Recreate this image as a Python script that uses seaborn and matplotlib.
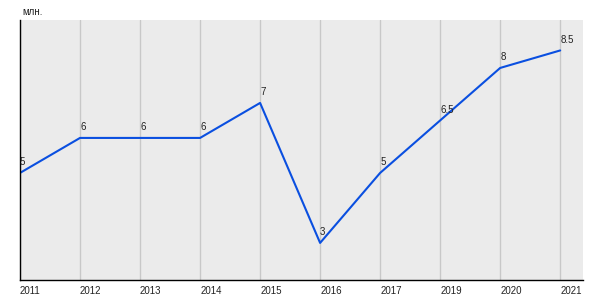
import matplotlib
matplotlib.use("Agg")
import matplotlib.pyplot as plt
import seaborn as sns
import pandas as pd

years = ["2011", "2012", "2013", "2014", "2015", "2016", "2017", "2019", "2020", "2021"]
values = [5, 6, 6, 6, 7, 3, 5, 6.5, 8, 8.5]
labels = ["5", "6", "6", "6", "7", "3", "5", "6.5", "8", "8.5"]
unit = "млн."

sns.set_theme(style="white")
plt.rcParams['font.family'] = ['Liberation Sans', 'DejaVu Sans']

df = pd.DataFrame({"pos": list(range(len(years))), "value": values})

fig = plt.figure(figsize=(6, 3), dpi=100)
ax = fig.add_axes([20/600, 20/300, 563/600, 260/300])
ax.set_facecolor("#ebebeb")

sns.lineplot(data=df, x="pos", y="value", ax=ax, color="#0a4fe0", linewidth=1.5)

for p, v, t in zip(df["pos"], values, labels):
    ax.annotate(t, (p, v), xytext=(0, 4), textcoords="offset points",
                ha="left", va="bottom", fontsize=7, color="#222222")

ax.set_xlim(0, 9.38)
ax.set_ylim(1.94, 9.37)
ax.set_xticks(df["pos"])
ax.set_xticklabels(years, fontsize=7, ha="left", color="#222222")
ax.set_yticks([])
ax.tick_params(axis="x", length=0, pad=4)
ax.grid(axis="x", color="#c8c8c8", linewidth=1)
ax.set_axisbelow(True)
ax.set_xlabel("")
ax.set_ylabel("")
for s in ["top", "right"]:
    ax.spines[s].set_visible(False)
for s in ["left", "bottom"]:
    ax.spines[s].set_color("black")
    ax.spines[s].set_linewidth(1)

fig.text(22/600, 1 - 12/300, unit, fontsize=7, ha="left", va="center", color="#222222")

fig.savefig("out.png", dpi=100)
